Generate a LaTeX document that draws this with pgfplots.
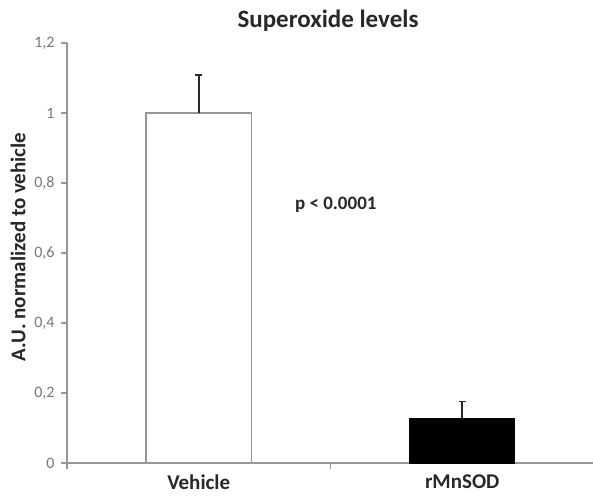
\documentclass[border=0pt]{standalone}
\usepackage{pgfplots}
\pgfplotsset{compat=1.18}
\usepackage{fontspec}
\setmainfont{Carlito}
\definecolor{axgray}{RGB}{150,150,150}
\definecolor{tickgray}{RGB}{120,120,120}
\definecolor{txt}{RGB}{40,40,40}
\begin{document}
\begin{tikzpicture}[x=1pt,y=1pt]
\path[use as bounding box] (0,0) rectangle (593,496);
\begin{axis}[
  at={(67pt,33pt)}, anchor=south west,
  scale only axis, width=527pt, height=420pt,
  xmin=-0.5, xmax=1.5, ymin=0, ymax=1.2,
  axis x line=bottom, axis y line=left,
  axis line style={axgray, line width=1.5pt, -},
  ytick={0,0.2,0.4,0.6,0.8,1,1.2},
  yticklabel style={font=\fontsize{16}{18}\selectfont, text=tickgray, xshift=-3pt, /pgf/number format/use comma, /pgf/number format/assume math mode=true},
  /pgf/number format/use comma,
  /pgf/number format/assume math mode=true,
  xtick={-0.5,0.5,1.5}, xticklabels={},
  extra x ticks={0,1},
  extra x tick labels={Vehicle,rMnSOD},
  extra x tick style={major tick length=0pt, tick style={draw=none},
     xticklabel style={font=\bfseries\fontsize{21}{24}\selectfont, text=txt, yshift=-8pt}},
  tick align=outside, major tick length=6pt,
  tick style={axgray, line width=1.2pt},
  clip=false,
]
\addplot[ybar, bar width=0.4, fill=white, draw=axgray, line width=1.5pt,
  error bars/.cd, y dir=plus, y explicit,
  error bar style={line width=1.6pt, draw=txt},
  error mark options={rotate=90, mark size=3.5pt, line width=1.6pt, draw=txt}]
  coordinates {(0,1.0) +- (0,0.109)};
\addplot[ybar, bar width=0.4, fill=black, draw=black, line width=1pt,
  error bars/.cd, y dir=plus, y explicit,
  error bar style={line width=1.6pt, draw=txt},
  error mark options={rotate=90, mark size=3.5pt, line width=1.6pt, draw=txt}]
  coordinates {(1,0.126) +- (0,0.05)};
\node[font=\bfseries\fontsize{19}{22}\selectfont, text=txt] at (axis cs:0.52,0.737) {p < 0.0001};
\end{axis}
\node[font=\bfseries\fontsize{25}{28}\selectfont, text=txt] at (328,475) {Superoxide levels};
\node[rotate=90, font=\bfseries\fontsize{21}{24}\selectfont, text=txt] at (18,249) {A.U. normalized to vehicle};
\end{tikzpicture}
\end{document}
